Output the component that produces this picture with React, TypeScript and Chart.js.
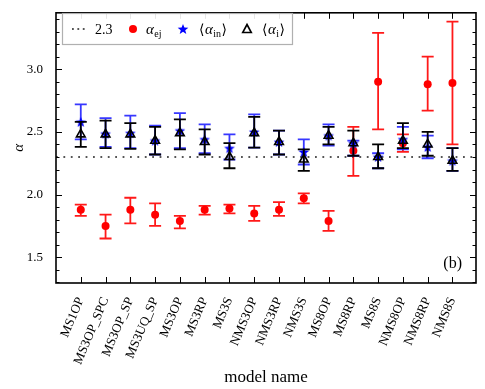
import React, { useEffect, useRef } from 'react';
import { Chart, registerables } from 'chart.js';
Chart.register(...registerables);

const categories = ['MS1OP', 'MS3OP_SPC', 'MS3OP_SP', 'MS3UQ_SP', 'MS3OP', 'MS3RP', 'MS3S', 'NMS3OP', 'NMS3RP', 'NMS3S', 'MS8OP', 'MS8RP', 'MS8S', 'NMS8OP', 'NMS8RP', 'NMS8S'];
const refLevel = 2.3;
const alphaEj = [1.88, 1.75, 1.88, 1.84, 1.79, 1.88, 1.89, 1.85, 1.88, 1.97, 1.79, 2.35, 2.90, 2.41, 2.88, 2.89];
const alphaEjLo = [1.83, 1.65, 1.77, 1.75, 1.73, 1.84, 1.85, 1.79, 1.83, 1.93, 1.71, 2.15, 2.52, 2.34, 2.67, 2.40];
const alphaEjHi = [1.92, 1.84, 1.975, 1.93, 1.83, 1.91, 1.92, 1.91, 1.94, 2.01, 1.87, 2.54, 3.29, 2.48, 3.10, 3.38];
const alphaIn = [2.58, 2.485, 2.49, 2.43, 2.51, 2.44, 2.37, 2.50, 2.42, 2.34, 2.47, 2.41, 2.30, 2.44, 2.38, 2.27];
const alphaInLo = [2.44, 2.38, 2.37, 2.32, 2.37, 2.33, 2.28, 2.375, 2.32, 2.24, 2.39, 2.31, 2.21, 2.36, 2.29, 2.19];
const alphaInHi = [2.72, 2.61, 2.63, 2.55, 2.65, 2.56, 2.48, 2.64, 2.51, 2.44, 2.56, 2.43, 2.33, 2.54, 2.47, 2.37];
const alphaI = [2.48, 2.48, 2.48, 2.43, 2.49, 2.42, 2.30, 2.49, 2.42, 2.28, 2.47, 2.41, 2.30, 2.43, 2.40, 2.27];
const alphaILo = [2.38, 2.37, 2.365, 2.32, 2.36, 2.32, 2.21, 2.375, 2.32, 2.19, 2.40, 2.31, 2.21, 2.37, 2.31, 2.19];
const alphaIHi = [2.58, 2.59, 2.57, 2.54, 2.60, 2.52, 2.41, 2.62, 2.51, 2.36, 2.54, 2.51, 2.40, 2.57, 2.50, 2.37];
const yMajorTicks = [1.5, 2.0, 2.5, 3.0];
const yMinorTicks = [1.3, 1.4, 1.6, 1.7, 1.8, 1.9, 2.1, 2.2, 2.3, 2.4, 2.6, 2.7, 2.8, 2.9, 3.1, 3.2, 3.3, 3.4];

const SERIF = "'Liberation Serif', 'DejaVu Serif', serif";
const RED = '#ff0000';
const BLUE = '#0000ff';

let starCache: HTMLCanvasElement | null = null;
function getStar() {
  if (starCache) return starCache;
  const r = 5.6;
  const s = Math.ceil(r * 2 + 2);
  const c = document.createElement('canvas');
  c.width = s;
  c.height = s;
  const g = c.getContext('2d')!;
  g.beginPath();
  for (let k = 0; k < 10; k++) {
    const a = -Math.PI / 2 + (k * Math.PI) / 5;
    const rr = k % 2 ? r * 0.42 : r;
    const x = s / 2 + rr * Math.cos(a);
    const y = s / 2 + 0.5 + rr * Math.sin(a);
    if (k === 0) g.moveTo(x, y);
    else g.lineTo(x, y);
  }
  g.closePath();
  g.fillStyle = BLUE;
  g.fill();
  starCache = c;
  return c;
}

const toPts = (arr: number[]) => arr.map((v, i) => ({ x: i, y: v }));

const errPlugin = {
  id: 'errbars',
  beforeDatasetDraw(chart: any, args: any) {
    const ds = chart.data.datasets[args.index];
    const eb = ds.errorBars;
    if (!eb) return;
    const { ctx, chartArea } = chart;
    const xs = chart.scales.x;
    const ys = chart.scales.y;
    ctx.save();
    ctx.beginPath();
    ctx.rect(chartArea.left, chartArea.top, chartArea.right - chartArea.left, chartArea.bottom - chartArea.top);
    ctx.clip();
    ctx.strokeStyle = eb.color;
    ctx.lineWidth = eb.width;
    for (let i = 0; i < eb.lo.length; i++) {
      const x = xs.getPixelForValue(i);
      const y1 = ys.getPixelForValue(eb.lo[i]);
      const y2 = ys.getPixelForValue(eb.hi[i]);
      ctx.beginPath();
      ctx.moveTo(x, y1);
      ctx.lineTo(x, y2);
      ctx.moveTo(x - eb.cap, y1);
      ctx.lineTo(x + eb.cap, y1);
      ctx.moveTo(x - eb.cap, y2);
      ctx.lineTo(x + eb.cap, y2);
      ctx.stroke();
    }
    ctx.restore();
  },
};

const framePlugin = {
  id: 'frame',
  afterDraw(chart: any) {
    const { ctx, chartArea: a } = chart;
    const xs = chart.scales.x;
    const ys = chart.scales.y;
    ctx.save();
    ctx.strokeStyle = '#000';
    ctx.lineWidth = 1;
    ctx.beginPath();
    categories.forEach((_, i) => {
      const x = Math.round(xs.getPixelForValue(i)) + 0.5;
      ctx.moveTo(x, a.bottom);
      ctx.lineTo(x, a.bottom - 6);
      ctx.moveTo(x, a.top);
      ctx.lineTo(x, a.top + 6);
    });
    yMajorTicks.forEach((v) => {
      const y = Math.round(ys.getPixelForValue(v)) + 0.5;
      ctx.moveTo(a.left, y);
      ctx.lineTo(a.left + 6, y);
      ctx.moveTo(a.right, y);
      ctx.lineTo(a.right - 6, y);
    });
    yMinorTicks.forEach((v) => {
      const y = Math.round(ys.getPixelForValue(v)) + 0.5;
      ctx.moveTo(a.left, y);
      ctx.lineTo(a.left + 3.5, y);
      ctx.moveTo(a.right, y);
      ctx.lineTo(a.right - 3.5, y);
    });
    ctx.stroke();
    ctx.lineWidth = 1.6;
    ctx.strokeRect(a.left, a.top, a.right - a.left, a.bottom - a.top);
    ctx.fillStyle = '#000';
    ctx.font = `16px ${SERIF}`;
    ctx.textAlign = 'right';
    ctx.textBaseline = 'alphabetic';
    ctx.fillText('(b)', a.right - 14, a.bottom - 15);
    ctx.restore();
  },
};

const legendPlugin = {
  id: 'customLegend',
  afterDraw(chart: any) {
    const ctx = chart.ctx;
    const star = getStar();
    ctx.save();
    const bx = 62, by = 13, bw = 230, bh = 31;
    ctx.fillStyle = 'rgba(255,255,255,0.9)';
    ctx.fillRect(bx, by, bw, bh);
    ctx.strokeStyle = '#b0b0b0';
    ctx.lineWidth = 1.2;
    ctx.strokeRect(bx + 0.5, by + 0.5, bw, bh);
    const cy = 29;
    ctx.strokeStyle = '#555';
    ctx.lineWidth = 1.8;
    ctx.setLineDash([1.8, 3.6]);
    ctx.beginPath();
    ctx.moveTo(72, cy);
    ctx.lineTo(88, cy);
    ctx.stroke();
    ctx.setLineDash([]);
    ctx.fillStyle = '#000';
    ctx.textBaseline = 'alphabetic';
    ctx.textAlign = 'left';
    const base = 34;
    ctx.font = `14px ${SERIF}`;
    ctx.fillText(String(refLevel), 95, base);
    ctx.fillStyle = RED;
    ctx.beginPath();
    ctx.arc(133, cy, 4, 0, Math.PI * 2);
    ctx.fill();
    ctx.fillStyle = '#000';
    let x = 146;
    ctx.font = `italic 15px ${SERIF}`;
    ctx.fillText('α', x, base);
    x += ctx.measureText('α').width + 0.5;
    ctx.font = `10px ${SERIF}`;
    ctx.fillText('ej', x, base + 3);
    ctx.drawImage(star, 183 - star.width / 2, cy - star.height / 2);
    x = 199;
    ctx.font = `14px ${SERIF}`;
    ctx.fillText('⟨', x, base);
    x += ctx.measureText('⟨').width + 0.5;
    ctx.font = `italic 15px ${SERIF}`;
    ctx.fillText('α', x, base);
    x += ctx.measureText('α').width + 0.5;
    ctx.font = `10px ${SERIF}`;
    ctx.fillText('in', x, base + 3);
    x += ctx.measureText('in').width + 0.5;
    ctx.font = `14px ${SERIF}`;
    ctx.fillText('⟩', x, base);
    ctx.strokeStyle = '#000';
    ctx.lineWidth = 1.6;
    ctx.beginPath();
    ctx.moveTo(247, cy - 4.5);
    ctx.lineTo(251.3, cy + 3.5);
    ctx.lineTo(242.7, cy + 3.5);
    ctx.closePath();
    ctx.stroke();
    x = 262;
    ctx.font = `14px ${SERIF}`;
    ctx.fillText('⟨', x, base);
    x += ctx.measureText('⟨').width + 0.5;
    ctx.font = `italic 15px ${SERIF}`;
    ctx.fillText('α', x, base);
    x += ctx.measureText('α').width + 0.5;
    ctx.font = `10px ${SERIF}`;
    ctx.fillText('i', x, base + 3);
    x += ctx.measureText('i').width + 0.5;
    ctx.font = `14px ${SERIF}`;
    ctx.fillText('⟩', x, base);
    ctx.restore();
  },
};

export default function App() {
  const ref = useRef<HTMLCanvasElement>(null);
  useEffect(() => {
    const star = getStar();
    const chart: any = new Chart(ref.current!, {
      type: 'scatter',
      data: {
        datasets: [
          {
            type: 'line',
            label: String(refLevel),
            data: [{ x: -1, y: refLevel }, { x: 15.95, y: refLevel }],
            borderColor: '#555',
            borderWidth: 1.8,
            borderDash: [1.8, 5.6],
            pointRadius: 0,
            order: 4,
          } as any,
          {
            label: 'alpha_ej',
            data: toPts(alphaEj),
            backgroundColor: RED,
            borderColor: RED,
            borderWidth: 0,
            pointRadius: 4,
            order: 3,
            errorBars: { lo: alphaEjLo, hi: alphaEjHi, color: 'rgba(255,0,0,0.9)', width: 1.8, cap: 6 },
          } as any,
          {
            label: 'alpha_in',
            data: toPts(alphaIn),
            pointStyle: star,
            pointRadius: 5.6,
            order: 2,
            errorBars: { lo: alphaInLo, hi: alphaInHi, color: 'rgba(20,20,255,0.85)', width: 1.8, cap: 6 },
          } as any,
          {
            label: 'alpha_i',
            data: toPts(alphaI),
            pointStyle: 'triangle',
            pointRadius: 5,
            backgroundColor: 'rgba(0,0,0,0)',
            borderColor: '#000',
            borderWidth: 1.6,
            order: 1,
            errorBars: { lo: alphaILo, hi: alphaIHi, color: '#000', width: 1.8, cap: 6 },
          } as any,
        ],
      },
      options: {
        responsive: false,
        animation: false,
        devicePixelRatio: 1,
        layout: { padding: { top: 7, right: 9, bottom: 0, left: 0 } },
        plugins: { legend: { display: false }, tooltip: { enabled: false } },
        scales: {
          x: {
            type: 'linear',
            min: -1,
            max: 15.95,
            grid: { display: false },
            border: { display: false },
            afterBuildTicks: (s: any) => {
              s.ticks = categories.map((_, i) => ({ value: i }));
            },
            afterFit: (s: any) => {
              s.height = 106;
            },
            ticks: {
              autoSkip: false,
              minRotation: 67,
              maxRotation: 67,
              padding: 4,
              color: '#000',
              font: { family: SERIF, size: 13 },
              callback: (v: any) => categories[Math.round(v)] ?? '',
            },
            title: {
              display: true,
              text: 'model name',
              color: '#000',
              font: { family: SERIF, size: 17 },
              padding: { top: 0, bottom: 1 },
            },
          },
          y: {
            type: 'linear',
            min: 1.295,
            max: 3.45,
            grid: { display: false },
            border: { display: false },
            afterBuildTicks: (s: any) => {
              s.ticks = yMajorTicks.map((v) => ({ value: v }));
            },
            afterFit: (s: any) => {
              s.width = 56;
            },
            ticks: {
              padding: 5,
              color: '#000',
              font: { family: SERIF, size: 13 },
              callback: (v: any) => Number(v).toFixed(1),
            },
            title: {
              display: true,
              text: 'α',
              color: '#000',
              font: { family: SERIF, size: 15, style: 'italic' },
              padding: { top: 10, bottom: 0 },
            },
          },
        },
      },
      plugins: [errPlugin, framePlugin, legendPlugin],
    } as any);
    return () => chart.destroy();
  }, []);
  return (
    <div style={{ position: 'fixed', left: 0, top: 0, width: 485, height: 389 }}>
      <canvas ref={ref} width={485} height={389} style={{ width: 485, height: 389, display: 'block' }} />
    </div>
  );
}
